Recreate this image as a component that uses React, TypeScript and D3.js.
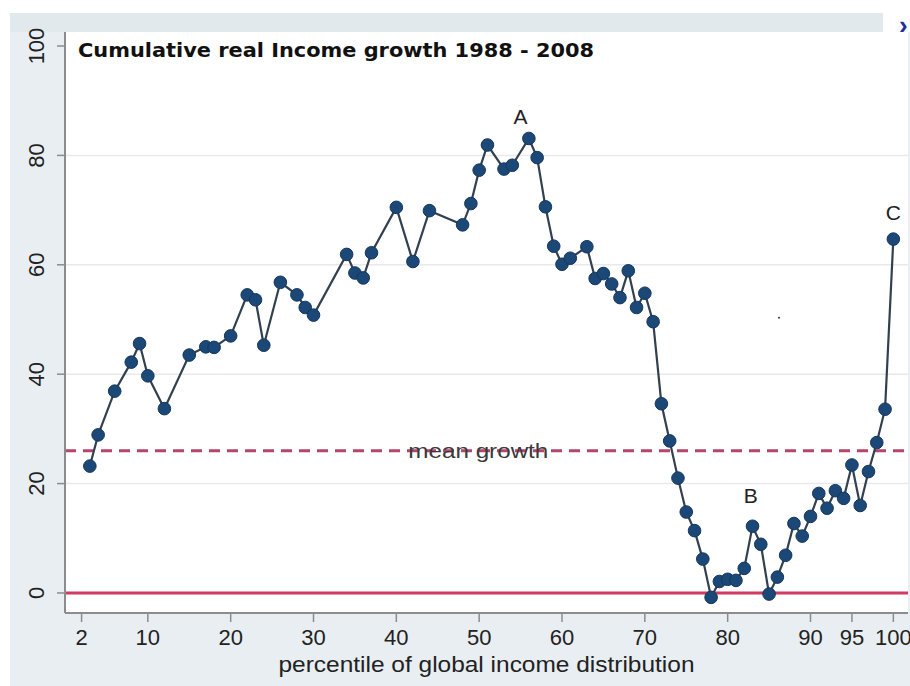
import React from "react";
import * as d3 from "d3";

// percentile of global income distribution
const percentiles = [3, 4, 6, 8, 9, 10, 12, 15, 17, 18, 20, 22, 23, 24, 26, 28, 29, 30, 34, 35, 36, 37, 40, 42, 44, 48, 49, 50, 51, 53, 54, 56, 57, 58, 59, 60, 61, 63, 64, 65, 66, 67, 68, 69, 70, 71, 72, 73, 74, 75, 76, 77, 78, 79, 80, 81, 82, 83, 84, 85, 86, 87, 88, 89, 90, 91, 92, 93, 94, 95, 96, 97, 98, 99, 100];
// cumulative real income growth 1988-2008 (%)
const growth = [23.2, 28.9, 36.9, 42.2, 45.6, 39.7, 33.7, 43.5, 45.0, 44.9, 47.0, 54.5, 53.6, 45.3, 56.8, 54.5, 52.2, 50.8, 61.9, 58.5, 57.6, 62.2, 70.5, 60.6, 69.9, 67.3, 71.2, 77.3, 81.9, 77.5, 78.2, 83.1, 79.6, 70.6, 63.4, 60.1, 61.2, 63.3, 57.5, 58.4, 56.5, 54.0, 58.9, 52.2, 54.8, 49.6, 34.6, 27.8, 21.0, 14.8, 11.4, 6.2, -0.8, 2.1, 2.5, 2.3, 4.5, 12.2, 8.9, -0.2, 2.9, 6.9, 12.7, 10.4, 14.0, 18.2, 15.5, 18.7, 17.3, 23.4, 16.0, 22.2, 27.5, 33.6, 64.7];

const xTicks = [2, 10, 20, 30, 40, 50, 60, 70, 80, 90, 95, 100];
const yTicks = [0, 20, 40, 60, 80, 100];
const gridValues = [20, 40, 60, 80];
const meanGrowth = 26;

const annotations = [
  { label: "A", p: 55, v: 85.7 },
  { label: "B", p: 82.8, v: 16.4 },
  { label: "C", p: 100, v: 68.2 },
];

const titleText = "Cumulative real Income growth 1988 - 2008";
const xTitle = "percentile of global income distribution";
const meanLabel = "mean growth";

const W = 910;
const H = 686;
const L = 65;
const R = 908;
const T = 32;
const B = 613;

export default function App() {
  const x = d3.scaleLinear().domain([0, 101.77]).range([L, R]);
  const y = d3.scaleLinear().domain([-3.66, 102.56]).range([B, T]);

  const data = percentiles.map((p, i) => ({ p, v: growth[i] }));
  const line = d3
    .line<{ p: number; v: number }>()
    .x((d) => x(d.p))
    .y((d) => y(d.v));

  const sans = "'Liberation Sans', Arial, sans-serif";

  return (
    <svg
      width={W}
      height={H}
      style={{ position: "absolute", left: 0, top: 0, background: "#ffffff" }}
    >
      {/* outer background */}
      <rect x={10} y={13} width={W - 10} height={H - 13} fill="#e8eef1" />
      {/* top band */}
      <rect x={10} y={13} width={873} height={19} fill="#e2e9ed" />
      <rect x={883} y={0} width={27} height={32} fill="#ffffff" />
      <text x={899} y={34} fontFamily={sans} fontWeight="bold" fontSize={26} fill="#1c2e9c">
        ›
      </text>
      {/* plot region */}
      <rect x={L} y={T} width={R - L} height={B - T} fill="#ffffff" />

      {/* gridlines */}
      {gridValues.map((g) => (
        <line key={g} x1={L} x2={R} y1={y(g)} y2={y(g)} stroke="#e9e9e9" strokeWidth={1.5} />
      ))}

      {/* zero line */}
      <line x1={L} x2={R} y1={y(0)} y2={y(0)} stroke="#d13b62" strokeWidth={3} />
      {/* mean growth line */}
      <line
        x1={L}
        x2={R}
        y1={y(meanGrowth)}
        y2={y(meanGrowth)}
        stroke="#b5466b"
        strokeWidth={2.8}
        strokeDasharray="11 7"
      />
      <text
        x={x(49.9)}
        y={y(meanGrowth) + 7}
        textAnchor="middle"
        fontFamily={sans}
        fontSize={21}
        fill="#3a3a3a"
        textLength={140}
        lengthAdjust="spacingAndGlyphs"
      >
        {meanLabel}
      </text>

      {/* axes */}
      <line x1={L} x2={L} y1={T} y2={B} stroke="#8c8c8c" strokeWidth={2} />
      <line x1={L} x2={R} y1={B} y2={B} stroke="#8c8c8c" strokeWidth={2} />
      {yTicks.map((t) => (
        <g key={t}>
          <line x1={57} x2={L} y1={y(t)} y2={y(t)} stroke="#8c8c8c" strokeWidth={1.5} />
          <text
            transform={`translate(44,${y(t)}) rotate(-90)`}
            textAnchor="middle"
            fontFamily={sans}
            fontSize={22}
            fill="#222"
          >
            {t}
          </text>
        </g>
      ))}
      {xTicks.map((t) => (
        <g key={t}>
          <line x1={x(t)} x2={x(t)} y1={B} y2={B + 9} stroke="#8c8c8c" strokeWidth={1.5} />
          <text x={x(t)} y={645} textAnchor="middle" fontFamily={sans} fontSize={22} fill="#222">
            {t}
          </text>
        </g>
      ))}
      <text
        x={(278 + 695) / 2}
        y={672}
        textAnchor="middle"
        fontFamily={sans}
        fontSize={22}
        fill="#222"
        textLength={416}
        lengthAdjust="spacingAndGlyphs"
      >
        {xTitle}
      </text>

      {/* title */}
      <text
        x={78}
        y={57}
        fontFamily="'DejaVu Sans', Verdana, sans-serif"
        fontWeight="bold"
        fontSize={20}
        fill="#111"
        textLength={516}
        lengthAdjust="spacingAndGlyphs"
      >
        {titleText}
      </text>

      {/* series */}
      <path d={line(data) || ""} fill="none" stroke="#33404f" strokeWidth={2.2} />
      {data.map((d) => (
        <circle
          key={d.p}
          cx={x(d.p)}
          cy={y(d.v)}
          r={6.3}
          fill="#1c4877"
          stroke="#15375c"
          strokeWidth={1}
        />
      ))}

      {/* annotations */}
      {annotations.map((a) => (
        <text
          key={a.label}
          x={x(a.p)}
          y={y(a.v)}
          textAnchor="middle"
          fontFamily={sans}
          fontSize={21}
          fill="#222"
        >
          {a.label}
        </text>
      ))}
      <circle cx={x(86.2)} cy={y(50.3)} r={1} fill="#333" />
    </svg>
  );
}
